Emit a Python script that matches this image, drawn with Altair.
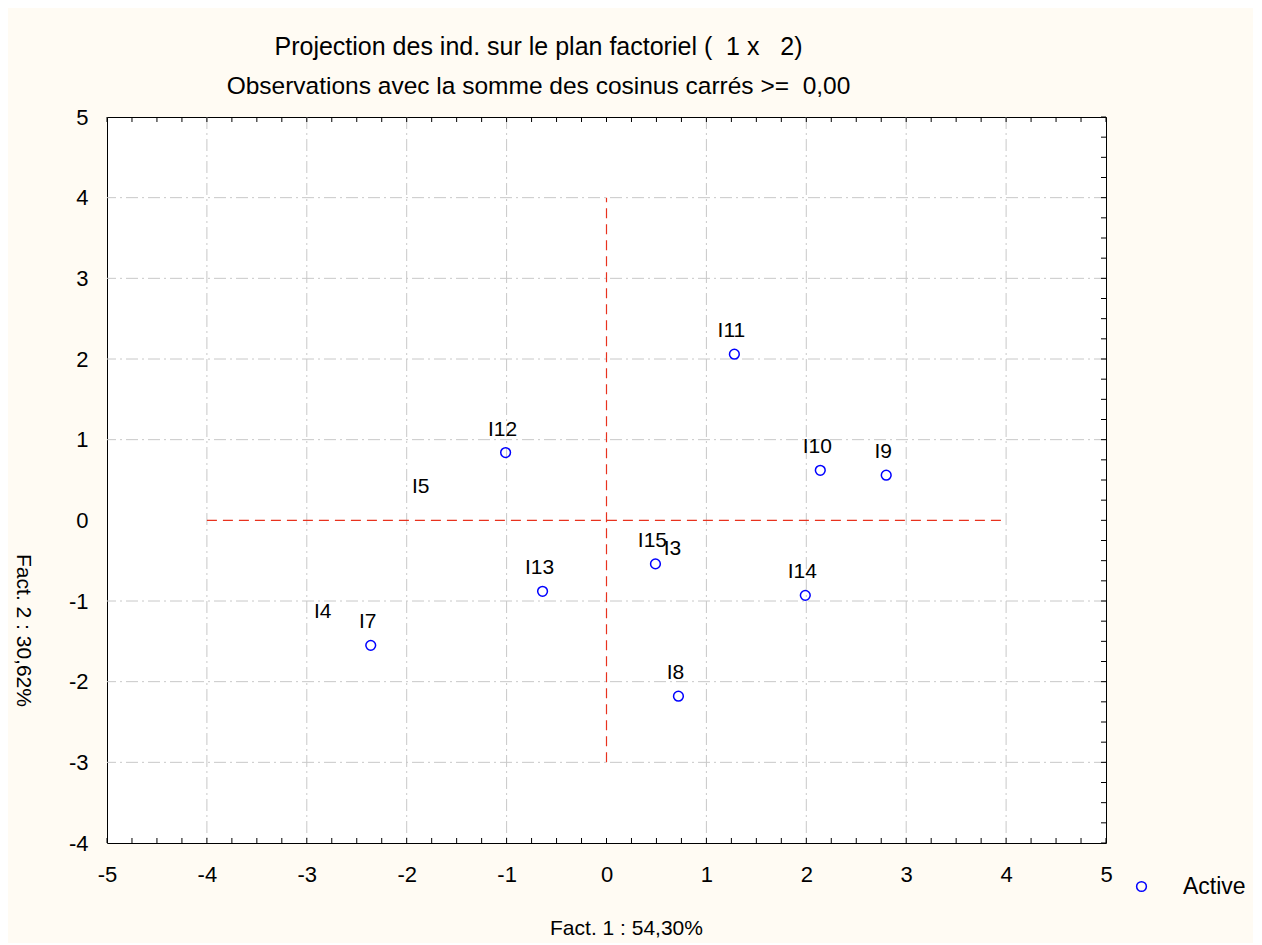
import altair as alt
import pandas as pd

# ---- data ----
names = ["I11", "I12", "I10", "I9", "I13", "I15", "I14", "I7", "I8", "I5", "I4", "I3"]
fact1 = [1.28, -1.01, 2.14, 2.80, -0.64, 0.49, 1.99, -2.36, 0.72, -1.83, -2.81, 0.69]
fact2 = [2.06, 0.84, 0.62, 0.56, -0.88, -0.54, -0.93, -1.55, -2.18, 0.13, -1.42, -0.64]
marker = [True, True, True, True, True, True, True, True, True, False, False, False]

x_ticks = [-5, -4, -3, -2, -1, 0, 1, 2, 3, 4, 5]
y_ticks = [-4, -3, -2, -1, 0, 1, 2, 3, 4, 5]
grid_x = [-4, -3, -2, -1, 1, 2, 3, 4]
grid_y = [-3, -2, -1, 1, 2, 3, 4]

W, H = 999, 726
FONT = "Liberation Sans"
BG = "#fffbf3"
FS = 21
TFS = 22

df = pd.DataFrame({"name": names, "f1": fact1, "f2": fact2, "mark": marker})
df["type"] = "Active"
pts = df[df["mark"]]

xs = alt.Scale(domain=[-5, 5], nice=False, zero=False)
ys = alt.Scale(domain=[-4, 5], nice=False, zero=False)

x_axis = alt.Axis(values=x_ticks, grid=False, domain=False, ticks=False,
                  labelExpr="'' + datum.value", labelFlush=False, labelOverlap=False,
                  labelPadding=21, labelFontSize=TFS, labelFont=FONT, labelColor="black",
                  titleFontSize=FS, titleFont=FONT, titleFontWeight="normal", titleColor="black",
                  titleX=519, titleY=85, titleBaseline="middle")
y_axis = alt.Axis(values=y_ticks, grid=False, domain=False, ticks=False,
                  labelExpr="'' + datum.value", labelFlush=False, labelOverlap=False,
                  labelPadding=19, labelFontSize=TFS, labelFont=FONT, labelColor="black",
                  labelBaseline="middle",
                  titleFontSize=FS, titleFont=FONT, titleFontWeight="normal", titleColor="black",
                  titleAngle=90, titleX=-85, titleY=513, titleBaseline="middle", titleAlign="center")
X_TITLE = "Fact. 1 : 54,30%"
Y_TITLE = "Fact. 2 : 30,62%"


def X(field):
    return alt.X(field, scale=xs, title=X_TITLE, axis=x_axis)


def Y(field):
    return alt.Y(field, scale=ys, title=Y_TITLE, axis=y_axis)


# grid lines
gx = alt.Chart(pd.DataFrame({"v": grid_x})).mark_rule(
    color="#c8c8c8", strokeDash=[12, 4, 2, 4], strokeWidth=1
).encode(x=X("v:Q"))
gy = alt.Chart(pd.DataFrame({"v": grid_y})).mark_rule(
    color="#c8c8c8", strokeDash=[12, 4, 2, 4], strokeWidth=1
).encode(y=Y("v:Q"))

# red origin lines
red_v = alt.Chart(pd.DataFrame({"x": [0], "y": [-3], "y2": [4]})).mark_rule(
    color="#e8321e", strokeDash=[10, 6], strokeWidth=1.2
).encode(x=X("x:Q"), y=Y("y:Q"), y2="y2:Q")
red_h = alt.Chart(pd.DataFrame({"y": [0], "x": [-4], "x2": [4]})).mark_rule(
    color="#e8321e", strokeDash=[10, 6], strokeWidth=1.2
).encode(y=Y("y:Q"), x=X("x:Q"), x2="x2:Q")

# inside tick marks (quarter steps)
qx = pd.DataFrame({"v": [i / 4 for i in range(-20, 21)]})
qy = pd.DataFrame({"v": [i / 4 for i in range(-16, 21)]})
tick_top = alt.Chart(qx).mark_rule(color="black").encode(
    x=X("v:Q"), y=alt.value(0), y2=alt.value(5))
tick_bot = alt.Chart(qx).mark_rule(color="black").encode(
    x=X("v:Q"), y=alt.value(H), y2=alt.value(H - 5))
tick_right = alt.Chart(qy).mark_rule(color="black").encode(
    y=Y("v:Q"), x=alt.value(W), x2=alt.value(W - 5))

# points
points = alt.Chart(pts).mark_point(shape="circle", filled=False, size=95, strokeWidth=1.5,
                                   opacity=1).encode(
    x=X("f1:Q"),
    y=Y("f2:Q"),
    color=alt.Color("type:N", scale=alt.Scale(domain=["Active"], range=["#0000ff"]),
                    legend=alt.Legend(orient="none", legendX=1023, legendY=758, title=None,
                                      labelFontSize=23, labelFont=FONT, labelColor="black",
                                      symbolType="circle", symbolSize=95, symbolStrokeWidth=1.5,
                                      symbolOpacity=1,
                                      symbolFillColor="transparent", labelOffset=30, padding=0)),
)

labels = alt.Chart(df).mark_text(fontSize=FS, font=FONT, color="black", dx=-3, dy=-23,
                                 align="center", baseline="middle").encode(
    x=X("f1:Q"), y=Y("f2:Q"), text="name:N")

chart = alt.layer(gx, gy, red_v, red_h, tick_top, tick_bot, tick_right, points, labels).properties(
    width=W, height=H,
    title=alt.TitleParams(
        text="Projection des ind. sur le plan factoriel (\u00a0 1 x \u00a0 2)",
        subtitle="Observations avec la somme des cosinus carrés >= \u00a00,00",
        font=FONT, fontSize=25, fontWeight="normal", color="black",
        subtitleFont=FONT, subtitleFontSize=24.5, subtitleColor="black", subtitlePadding=15,
        anchor="middle", dx=-68, offset=8),
    background=BG,
    padding={"left": 99, "top": 109, "right": 147, "bottom": 100},
    autosize=alt.AutoSizeParams(type="none"),
).configure_view(stroke="black", strokeWidth=1, fill="white")

chart.save("out.html", embed_options={"renderer": "svg", "actions": False})
